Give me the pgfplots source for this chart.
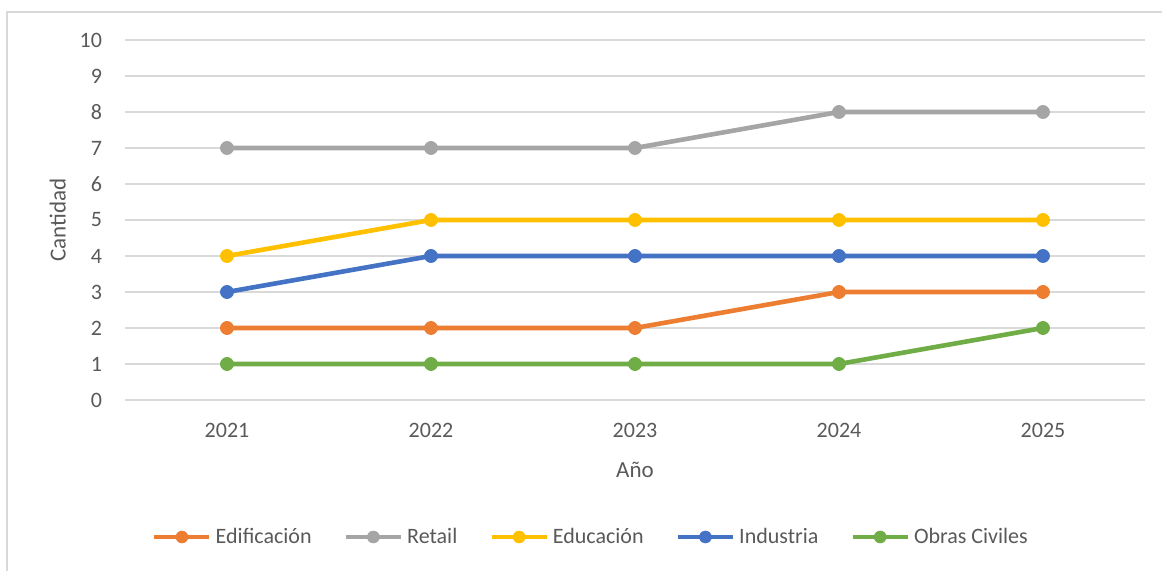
\documentclass[border=0pt]{standalone}
\usepackage{pgfplots}
\pgfplotsset{compat=1.18}
\usepackage{fontspec}
\setmainfont{Carlito}
\definecolor{cOr}{HTML}{ED7D31}
\definecolor{cGr}{HTML}{A5A5A5}
\definecolor{cYe}{HTML}{FFC000}
\definecolor{cBl}{HTML}{4472C4}
\definecolor{cGn}{HTML}{70AD47}
\definecolor{txt}{HTML}{595959}
\definecolor{grd}{HTML}{D9D9D9}
\begin{document}
\begin{tikzpicture}
\useasboundingbox (-62.5pt,-85.5pt) rectangle (518.5pt,200pt);
\draw[grd, line width=0.6pt] (-59pt,-85.5pt) -- (-59pt,194pt) -- (518.5pt,194pt);
\begin{axis}[
  at={(0,0)}, anchor=south west,
  scale only axis, width=510pt, height=180pt,
  xmin=0.5, xmax=5.5, ymin=0, ymax=10,
  xtick={1,2,3,4,5}, xticklabels={2021,2022,2023,2024,2025},
  ytick={0,1,...,10},
  axis line style={draw=none},
  axis x line*=bottom,
  axis y line*=left,
  major tick length=0pt,
  ymajorgrids, grid style={grd, line width=0.6pt},
  tick label style={font=\fontsize{11}{13}\selectfont, text=txt},
  /pgf/number format/assume math mode=true,
  xticklabel style={yshift=-8pt},
  yticklabel style={xshift=-8pt},
  xlabel={Año}, ylabel={Cantidad},
  label style={font=\fontsize{11.5}{13}\selectfont, text=txt},
  xlabel style={yshift=-5.5pt},
  ylabel style={yshift=0pt},
  legend columns=5,
  legend style={draw=none, fill=none, at={(233.5pt,-68.5pt)}, anchor=center,
     font=\fontsize{11}{13}\selectfont, text=txt,
     /tikz/every even column/.append style={column sep=14pt}},
  legend image code/.code={\draw[mark repeat=2,mark phase=2,mark size=3pt] plot coordinates {(0pt,0pt)(13.75pt,0pt)(27.5pt,0pt)};},
  every axis plot/.append style={line width=2.3pt, mark=*, mark size=3.3pt, mark options={solid, line width=0.3pt}},
  clip=false,
]
\draw[grd, line width=0.8pt] (axis cs:0.5,0) -- (axis cs:5.5,0);
\addplot[cOr] coordinates {(1,2)(2,2)(3,2)(4,3)(5,3)};
\addlegendentry{Edificación}
\addplot[cGr] coordinates {(1,7)(2,7)(3,7)(4,8)(5,8)};
\addlegendentry{Retail}
\addplot[cYe] coordinates {(1,4)(2,5)(3,5)(4,5)(5,5)};
\addlegendentry{Educación}
\addplot[cBl] coordinates {(1,3)(2,4)(3,4)(4,4)(5,4)};
\addlegendentry{Industria}
\addplot[cGn] coordinates {(1,1)(2,1)(3,1)(4,1)(5,2)};
\addlegendentry{Obras Civiles}
\end{axis}
\end{tikzpicture}
\end{document}
